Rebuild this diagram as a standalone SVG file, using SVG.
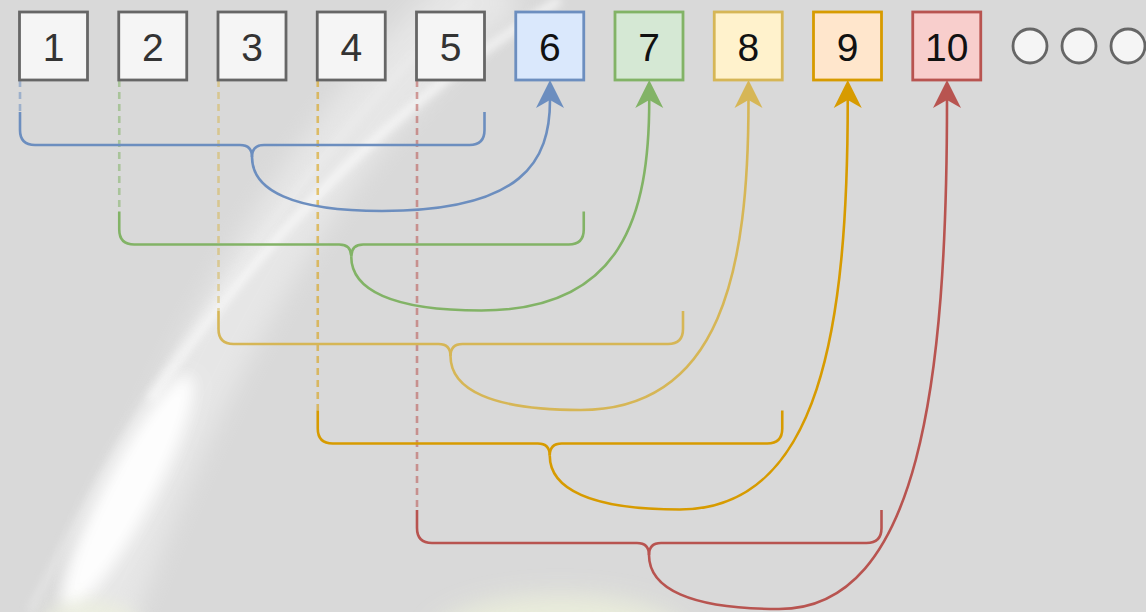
<svg xmlns="http://www.w3.org/2000/svg" width="1146" height="612" viewBox="0 0 1146 612">
<defs>
<style>
.bx{stroke-width:2.8}
.g{fill:#f5f5f5;stroke:#666666}
.b{fill:#dae8fc;stroke:#6c8ebf}
.gr{fill:#d5e8d4;stroke:#82b366}
.y{fill:#fff2cc;stroke:#d6b656}
.o{fill:#ffe6cc;stroke:#d79b00}
.r{fill:#f8cecc;stroke:#b85450}
.t{font-family:"Liberation Sans",Arial,Helvetica,sans-serif;font-size:39px;text-anchor:middle}
.tg{fill:#333333}
.tc{fill:#111111}
.ln{fill:none;stroke-width:2.6;stroke-linecap:butt}
.ds{stroke-dasharray:7 5;opacity:0.55}
.sb{stroke:#6c8ebf}
.sg{stroke:#82b366}
.sy{stroke:#d6b656}
.so{stroke:#d79b00}
.sr{stroke:#b85450}
</style>
<filter id="bl12" x="-50%" y="-50%" width="200%" height="200%"><feGaussianBlur stdDeviation="12"/></filter>
<filter id="bl4" x="-50%" y="-50%" width="200%" height="200%"><feGaussianBlur stdDeviation="4"/></filter>
<filter id="bl8" x="-50%" y="-50%" width="200%" height="200%"><feGaussianBlur stdDeviation="8"/></filter>
<marker id="ab" markerUnits="userSpaceOnUse" viewBox="0 -15 30 30" markerWidth="30" markerHeight="30" refX="8" refY="0" orient="auto" overflow="visible"><path d="M0,-14 L28,0 L0,14 L8,0 Z" fill="#6c8ebf"/></marker>
<marker id="ag" markerUnits="userSpaceOnUse" viewBox="0 -15 30 30" markerWidth="30" markerHeight="30" refX="8" refY="0" orient="auto" overflow="visible"><path d="M0,-14 L28,0 L0,14 L8,0 Z" fill="#82b366"/></marker>
<marker id="ay" markerUnits="userSpaceOnUse" viewBox="0 -15 30 30" markerWidth="30" markerHeight="30" refX="8" refY="0" orient="auto" overflow="visible"><path d="M0,-14 L28,0 L0,14 L8,0 Z" fill="#d6b656"/></marker>
<marker id="ao" markerUnits="userSpaceOnUse" viewBox="0 -15 30 30" markerWidth="30" markerHeight="30" refX="8" refY="0" orient="auto" overflow="visible"><path d="M0,-14 L28,0 L0,14 L8,0 Z" fill="#d79b00"/></marker>
<marker id="ar" markerUnits="userSpaceOnUse" viewBox="0 -15 30 30" markerWidth="30" markerHeight="30" refX="8" refY="0" orient="auto" overflow="visible"><path d="M0,-14 L28,0 L0,14 L8,0 Z" fill="#b85450"/></marker>
</defs>

<g id="background">
<rect x="0" y="0" width="1146" height="612" fill="#d9d9d9"/>
<path d="M500,-20 Q260,170 90,640" fill="none" stroke="#ffffff" stroke-width="70" opacity="0.35" filter="url(#bl12)"/>
<path d="M560,0 Q330,140 150,400" fill="none" stroke="#ffffff" stroke-width="8" opacity="0.7" filter="url(#bl4)"/>
<path d="M470,0 Q210,250 30,612" fill="none" stroke="#f2f2f2" stroke-width="6" opacity="0.5" filter="url(#bl4)"/>
<ellipse cx="128" cy="492" rx="26" ry="132" transform="rotate(28 128 492)" fill="#ffffff" opacity="0.95" filter="url(#bl8)"/>
<ellipse cx="560" cy="640" rx="130" ry="45" fill="#eef2dc" opacity="0.8" filter="url(#bl12)"/>
<ellipse cx="90" cy="625" rx="50" ry="25" fill="#eef2dc" opacity="0.6" filter="url(#bl8)"/>
</g>

<g id="connectors">
<path class="ln ds sb" d="M20,80 V112"/>
<path class="ln ds sg" d="M119.25,80 V211.5"/>
<path class="ln ds sy" d="M218.5,80 V311"/>
<path class="ln ds so" d="M317.75,80 V410.5"/>
<path class="ln ds sr" d="M417,80 V510"/>

<g id="brace-6">
<path class="ln sb" d="M20,112 V130 Q20,145 35,145 H240 Q252,145 252,157"/>
<path class="ln sb" d="M484.5,112 V130 Q484.5,145 469.5,145 H264 Q252,145 252,157"/>
<path class="ln sb" marker-end="url(#ab)" d="M252,157 C252,190 292,211 382,211 C523,211 550,161 550,100"/>
</g>
<g id="brace-7">
<path class="ln sg" d="M119.25,211.5 V229.5 Q119.25,244.5 134.25,244.5 H339.25 Q351.25,244.5 351.25,256.5"/>
<path class="ln sg" d="M583.75,211.5 V229.5 Q583.75,244.5 568.75,244.5 H363.25 Q351.25,244.5 351.25,256.5"/>
<path class="ln sg" marker-end="url(#ag)" d="M351.25,256.5 C351.25,289.5 391.25,310.5 481.25,310.5 C622.25,310.5 649.25,215.8 649.25,100"/>
</g>
<g id="brace-8">
<path class="ln sy" d="M218.5,311 V329 Q218.5,344 233.5,344 H438.5 Q450.5,344 450.5,356"/>
<path class="ln sy" d="M683,311 V329 Q683,344 668,344 H462.5 Q450.5,344 450.5,356"/>
<path class="ln sy" marker-end="url(#ay)" d="M450.5,356 C450.5,389 490.5,410 580.5,410 C721.5,410 748.5,270 748.5,100"/>
</g>
<g id="brace-9">
<path class="ln so" d="M317.75,410.5 V428.5 Q317.75,443.5 332.75,443.5 H537.75 Q549.75,443.5 549.75,455.5"/>
<path class="ln so" d="M782.25,410.5 V428.5 Q782.25,443.5 767.25,443.5 H561.75 Q549.75,443.5 549.75,455.5"/>
<path class="ln so" marker-end="url(#ao)" d="M549.75,455.5 C549.75,488.5 589.75,509.5 679.75,509.5 C820.75,509.5 847.75,325 847.75,100"/>
</g>
<g id="brace-10">
<path class="ln sr" d="M417,510 V528 Q417,543 432,543 H637 Q649,543 649,555"/>
<path class="ln sr" d="M881.5,510 V528 Q881.5,543 866.5,543 H661 Q649,543 649,555"/>
<path class="ln sr" marker-end="url(#ar)" d="M649,555 C649,588 689,609 779,609 C920,609 947,380 947,100"/>
</g>
</g>

<g id="n1"><rect class="bx g" x="19.5" y="12" width="68" height="68"/><text class="t tg" x="53.5" y="61">1</text></g>
<g id="n2"><rect class="bx g" x="118.75" y="12" width="68" height="68"/><text class="t tg" x="152.75" y="61">2</text></g>
<g id="n3"><rect class="bx g" x="218" y="12" width="68" height="68"/><text class="t tg" x="252" y="61">3</text></g>
<g id="n4"><rect class="bx g" x="317.25" y="12" width="68" height="68"/><text class="t tg" x="351.25" y="61">4</text></g>
<g id="n5"><rect class="bx g" x="416.5" y="12" width="68" height="68"/><text class="t tg" x="450.5" y="61">5</text></g>
<g id="n6"><rect class="bx b" x="515.75" y="12" width="68" height="68"/><text class="t tc" x="549.75" y="61">6</text></g>
<g id="n7"><rect class="bx gr" x="615" y="12" width="68" height="68"/><text class="t tc" x="649" y="61">7</text></g>
<g id="n8"><rect class="bx y" x="714.25" y="12" width="68" height="68"/><text class="t tc" x="748.25" y="61">8</text></g>
<g id="n9"><rect class="bx o" x="813.5" y="12" width="68" height="68"/><text class="t tc" x="847.5" y="61">9</text></g>
<g id="n10"><rect class="bx r" x="912.75" y="12" width="68" height="68"/><text class="t tc" x="946.75" y="61">10</text></g>
<g id="more">
<circle class="bx g" cx="1030" cy="46" r="17"/>
<circle class="bx g" cx="1079" cy="46" r="17"/>
<circle class="bx g" cx="1128" cy="46" r="17"/>
</g>
</svg>
